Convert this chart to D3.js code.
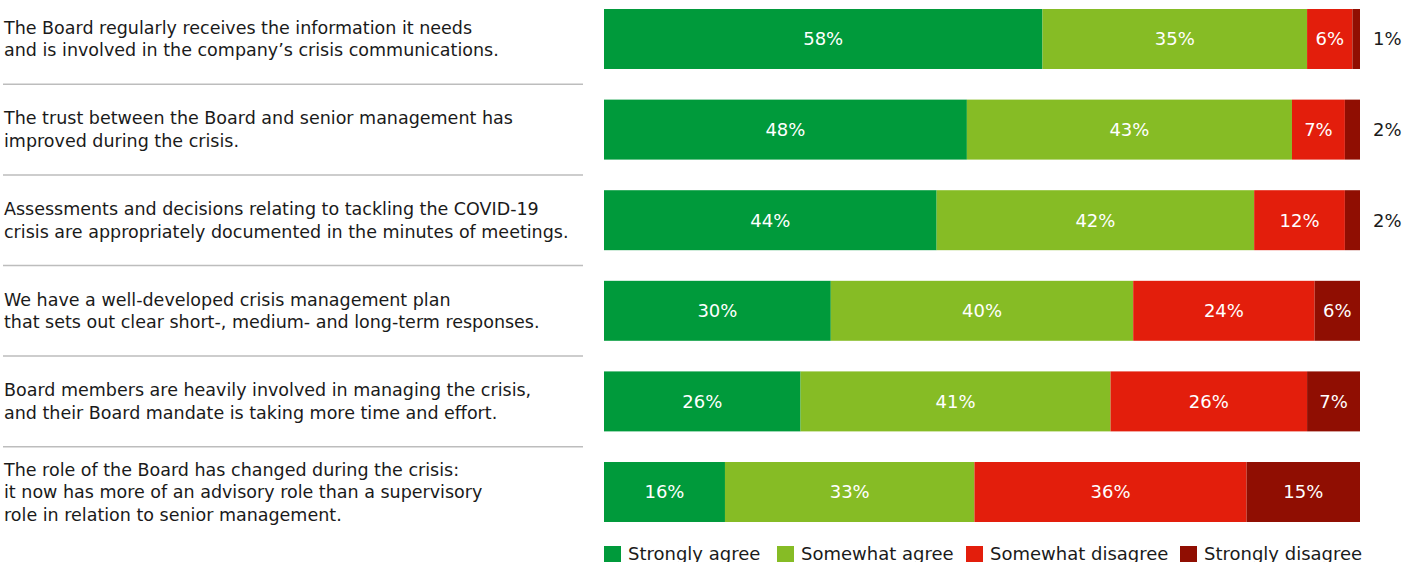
<!DOCTYPE html>
<html>
<head>
<meta charset="utf-8">
<script src="https://cdn.jsdelivr.net/npm/d3@7"></script>
<style>
  html, body { margin: 0; padding: 0; background: #fff; }
  svg { display: block; font-family: "DejaVu Sans", Verdana, sans-serif; }
</style>
</head>
<body>
<svg id="chart" width="1417" height="562"></svg>
<script>
// Survey statements (one per row), each split into its printed lines
const statements = [
  ["The Board regularly receives the information it needs", "and is involved in the company’s crisis communications."],
  ["The trust between the Board and senior management has", "improved during the crisis."],
  ["Assessments and decisions relating to tackling the COVID-19", "crisis are appropriately documented in the minutes of meetings."],
  ["We have a well-developed crisis management plan", "that sets out clear short-, medium- and long-term responses."],
  ["Board members are heavily involved in managing the crisis,", "and their Board mandate is taking more time and effort."],
  ["The role of the Board has changed during the crisis:", "it now has more of an advisory role than a supervisory", "role in relation to senior management."]
];

// Response categories
const responses = ["Strongly agree", "Somewhat agree", "Somewhat disagree", "Strongly disagree"];

// Share of respondents (%) per statement, one array per response
const stronglyAgree    = [58, 48, 44, 30, 26, 16];
const somewhatAgree    = [35, 43, 42, 40, 41, 33];
const somewhatDisagree = [6, 7, 12, 24, 26, 36];
const stronglyDisagree = [1, 2, 2, 6, 7, 15];

const colors = ["#009a3b", "#86bc25", "#e31e0c", "#900e02"];

const seriesValues = [stronglyAgree, somewhatAgree, somewhatDisagree, stronglyDisagree];
const rows = statements.map((s, i) => {
  const r = { id: i };
  responses.forEach((k, j) => r[k] = seriesValues[j][i]);
  return r;
});

const svg = d3.select("#chart");

const x = d3.scaleLinear().domain([0, 100]).range([604, 1360]);
const y = d3.scaleBand()
  .domain(rows.map(r => r.id))
  .range([-6.3, 537.3])
  .paddingInner(0.338)
  .paddingOuter(0.169);

const stack = d3.stack().keys(responses)(rows);

// Bar segments
const layers = svg.append("g").selectAll("g")
  .data(stack)
  .join("g")
  .attr("fill", (d, i) => colors[i]);

layers.selectAll("rect")
  .data(d => d)
  .join("rect")
  .attr("x", d => x(d[0]))
  .attr("y", d => y(d.data.id))
  .attr("width", d => x(d[1]) - x(d[0]))
  .attr("height", y.bandwidth());

// Value labels: inside when the segment is wide enough, otherwise to the right of the bar
const labelG = svg.append("g").attr("font-size", 18);
stack.forEach((layer, li) => {
  layer.forEach(d => {
    const v = d[1] - d[0];
    const w = x(d[1]) - x(d[0]);
    const cy = y(d.data.id) + y.bandwidth() / 2;
    if (w >= 40) {
      labelG.append("text")
        .attr("x", (x(d[0]) + x(d[1])) / 2)
        .attr("y", cy)
        .attr("dy", "0.35em")
        .attr("text-anchor", "middle")
        .attr("fill", "#fff")
        .text(v + "%");
    } else {
      labelG.append("text")
        .attr("x", x(100) + 13)
        .attr("y", cy)
        .attr("dy", "0.35em")
        .attr("fill", "#1a1a1a")
        .text(v + "%");
    }
  });
});

// Statement text on the left
const lineH = 22.5;
const stmtG = svg.append("g").attr("font-size", 17.5).attr("fill", "#1a1a1a");
statements.forEach((lines, i) => {
  const cy = y(i) + y.bandwidth() / 2;
  const top = cy - (lines.length - 1) * lineH / 2;
  const t = stmtG.append("text").attr("x", 4);
  lines.forEach((ln, k) => {
    t.append("tspan")
      .attr("x", 4)
      .attr("y", top + k * lineH)
      .attr("dy", "0.35em")
      .text(ln);
  });
});

// Separator rules between statements
const sepG = svg.append("g").attr("stroke", "#bdbdbd").attr("stroke-width", 1.5);
rows.slice(1).forEach(r => {
  const yy = y(r.id) - (y.step() - y.bandwidth()) / 2;
  sepG.append("line")
    .attr("x1", 3).attr("x2", 583)
    .attr("y1", yy).attr("y2", yy);
});

// Legend
const legendX = [604, 777, 966, 1180];
const legend = svg.append("g").attr("font-size", 18).attr("fill", "#1a1a1a");
responses.forEach((name, i) => {
  const g = legend.append("g").attr("transform", `translate(${legendX[i]},0)`);
  g.append("rect").attr("x", 0).attr("y", 546).attr("width", 17).attr("height", 17).attr("fill", colors[i]);
  g.append("text").attr("x", 24).attr("y", 560).text(name);
});
</script>
</body>
</html>
